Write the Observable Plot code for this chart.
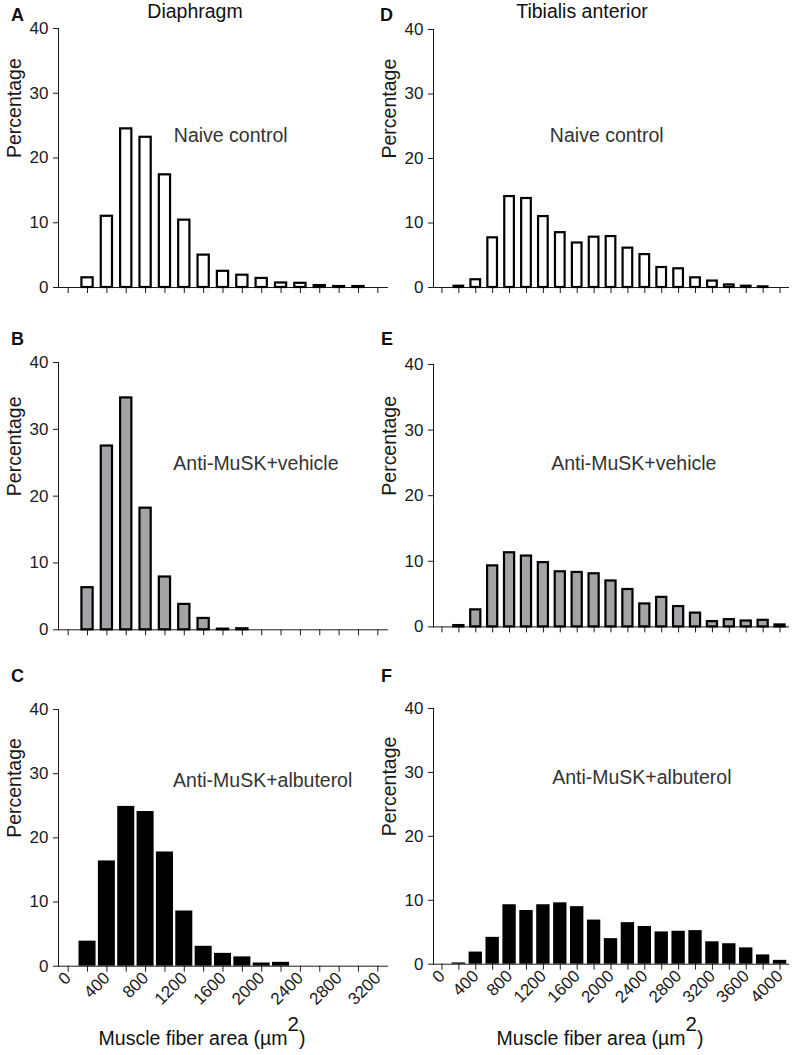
<!DOCTYPE html>
<html><head><meta charset="utf-8">
<script src="https://cdn.jsdelivr.net/npm/d3@7"></script>
<script src="https://cdn.jsdelivr.net/npm/@observablehq/plot@0.6"></script>
<style>
body{margin:0;background:#fff;}
#fig{position:relative;width:796px;height:1055px;font-family:"Liberation Sans",Arial,sans-serif;color:#111;overflow:hidden;}
.abs{position:absolute;line-height:1;white-space:nowrap;}
.letter{font-weight:bold;font-size:18px;}
.title{font-size:19.5px;transform:translateX(-50%);}
.xtitle{font-size:19.5px;transform:translateX(-50%);}
.xtitle sup{font-size:1.05em;vertical-align:0;position:relative;top:-0.66em;line-height:0;}
</style></head>
<body><div id="fig"></div>
<script>
// Bin centres (µm²) and percentages
const diaBins = [200,400,600,800,1000,1200,1400,1600,1800,2000,2200,2400,2600,2800,3000];
const diaNaive = [1.5,11.0,24.5,23.2,17.4,10.4,5.0,2.5,1.9,1.4,0.7,0.65,0.3,0.15,0.15];
const diaVehicle = [6.3,27.5,34.7,18.2,7.9,3.8,1.7,0.1,0.15];
const diaAlbuterol = [3.9,16.4,24.9,24.1,17.8,8.6,3.1,2.0,1.45,0.5,0.6];

const taBins = [200,400,600,800,1000,1200,1400,1600,1800,2000,2200,2400,2600,2800,3000,3200,3400,3600,3800,4000];
const taNaive = [0.2,1.2,7.7,14.1,13.8,11.0,8.5,6.9,7.8,7.9,6.1,5.1,3.1,2.9,1.5,1.0,0.4,0.2,0.1];
const taVehicle = [0.2,2.6,9.3,11.3,10.8,9.8,8.4,8.3,8.1,7.0,5.7,3.5,4.5,3.1,2.1,0.8,1.1,0.9,1.0,0.3];
const taAlbuterol = [0.2,1.9,4.2,9.3,8.4,9.3,9.6,9.0,6.9,4.0,6.5,5.9,5.05,5.15,5.25,3.5,3.2,2.55,1.45,0.6];

const diaTicks = d3.range(0, 3201, 200);
const taTicks = d3.range(0, 4001, 200);
const yTicks = [0,10,20,30,40];

const groups = ["Naive control","Anti-MuSK+vehicle","Anti-MuSK+albuterol"];
const muscles = ["Diaphragm","Tibialis anterior"];
const letters = ["A","B","C","D","E","F"];
const xTitle = "Muscle fiber area (µm";

const fig = document.getElementById("fig");
const FONT = '"Liberation Sans", Arial, sans-serif';

function panel(o){
  const data = o.bins.slice(0, o.values.length).map((b,i)=>({x:b, y:o.values[i]}));
  const mb = o.bottom ? 50 : 12;
  const chart = Plot.plot({
    width: o.width,
    height: 10 + o.frameH + mb,
    marginTop: 10, marginBottom: mb, marginLeft: o.ml, marginRight: o.mr,
    style: {fontFamily: FONT, fontSize: "17px", background: "transparent", color: "#1a1a1a", overflow: "visible"},
    x: {domain: [-100, o.xmax], ticks: o.ticks, tickSize: 6, tickPadding: 3, line: true, label: null,
        tickRotate: o.bottom ? -45 : 0,
        tickFormat: o.bottom ? (d => d % 400 === 0 ? String(d) : "") : (() => "")},
    y: {domain: [0, 40], ticks: yTicks, tickSize: 5, tickPadding: 5, line: true, label: null},
    marks: [
      Plot.rectY(data, {x1: d => d.x - o.half, x2: d => d.x + o.half, y1: 0, y2: "y",
        fill: o.fill, stroke: o.stroke, strokeWidth: 2.2}),
      Plot.text([o.note], {x: o.noteX, y: o.noteY, fontSize: 19.5, fill: "#333"}),
      Plot.text(["Percentage"], {frameAnchor: "left", dx: -44, rotate: -90, fontSize: 19.5, fill: "#1a1a1a"})
    ]
  });
  const wrap = document.createElement("div");
  wrap.className = "abs";
  wrap.style.left = o.left + "px";
  wrap.style.top = (o.y40 - 10) + "px";
  wrap.appendChild(chart);
  fig.appendChild(wrap);
}

const L = {left: 0, width: 392, ml: 58, mr: 5, xmax: 3300, bins: diaBins, ticks: diaTicks};
const R = {left: 370, width: 426, ml: 63, mr: 8, xmax: 4100, bins: taBins, ticks: taTicks};

panel({...L, values: diaNaive, fill: "white", stroke: "black", half: 58, note: groups[0], noteX: 1680, noteY: 23.5, y40: 28, frameH: 259});
panel({...L, values: diaVehicle, fill: "#a4a4a8", stroke: "black", half: 58, note: groups[1], noteX: 1940, noteY: 24.9, y40: 361.7, frameH: 267.3});
panel({...L, values: diaAlbuterol, fill: "black", stroke: "none", half: 88, note: groups[2], noteX: 2010, noteY: 28.9, y40: 709, frameH: 256.7, bottom: true});
panel({...R, values: taNaive, fill: "white", stroke: "black", half: 57, note: groups[0], noteX: 1950, noteY: 23.6, y40: 29.3, frameH: 258});
panel({...R, values: taVehicle, fill: "#a4a4a8", stroke: "black", half: 60, note: groups[1], noteX: 2270, noteY: 24.9, y40: 364.3, frameH: 262.4});
panel({...R, values: taAlbuterol, fill: "black", stroke: "none", half: 79, note: groups[2], noteX: 2365, noteY: 29.1, y40: 708.3, frameH: 255.7, bottom: true});

function addText(cls, html, left, top){
  const d = document.createElement("div");
  d.className = "abs " + cls;
  d.innerHTML = html;
  d.style.left = left + "px";
  d.style.top = top + "px";
  fig.appendChild(d);
}
// panel letters
addText("letter", letters[0], 11, 6);
addText("letter", letters[1], 11, 330);
addText("letter", letters[2], 11, 666.5);
addText("letter", letters[3], 380, 6);
addText("letter", letters[4], 381, 330);
addText("letter", letters[5], 381, 666.5);
// column titles
addText("title", muscles[0], 195, 1.5);
addText("title", muscles[1], 582, 1.5);
// x-axis titles
addText("xtitle", xTitle + "<sup>2</sup>)", 202, 1028.5);
addText("xtitle", xTitle + "<sup>2</sup>)", 600, 1028.5);
</script>
</body></html>
